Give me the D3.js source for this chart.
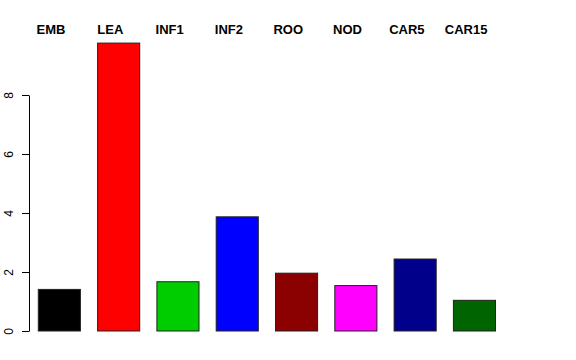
<!DOCTYPE html>
<html>
<head>
<meta charset="utf-8">
<script src="https://cdn.jsdelivr.net/npm/d3@7"></script>
<style>
  body { margin: 0; background: #fff; }
  svg { display: block; font-family: "Liberation Sans", Arial, sans-serif; }
</style>
</head>
<body>
<svg id="chart" width="576" height="360"></svg>
<script>
// tissue categories, values and colours
const categories = ["EMB", "LEA", "INF1", "INF2", "ROO", "NOD", "CAR5", "CAR15"];
const values = [1.41, 9.76, 1.67, 3.87, 1.96, 1.54, 2.44, 1.04];
const colors = ["#000000", "#ff0000", "#00cd00", "#0000ff", "#8b0000", "#ff00ff", "#00008b", "#006400"];
const yTicks = [0, 2, 4, 6, 8];

const svg = d3.select("#chart");

// scales
const x = d3.scaleBand()
    .domain(categories)
    .range([29.7, 504.1])
    .paddingInner(0.29)
    .paddingOuter(0.145);

const y = d3.scaleLinear()
    .domain([0, 8])
    .range([331, 95]);

// bars
svg.append("g")
    .selectAll("rect")
    .data(categories)
    .join("rect")
    .attr("x", d => x(d))
    .attr("y", (d, i) => y(values[i]))
    .attr("width", x.bandwidth())
    .attr("height", (d, i) => y(0) - y(values[i]))
    .attr("fill", (d, i) => colors[i])
    .attr("stroke", "#222")
    .attr("stroke-width", 1);

// labels on top
svg.append("g")
    .selectAll("text")
    .data(categories)
    .join("text")
    .attr("x", d => x(d) + x.bandwidth() / 2 - 8.3)
    .attr("y", 34)
    .attr("text-anchor", "middle")
    .attr("font-size", 13)
    .attr("font-weight", "bold")
    .text(d => d);

// y axis, R style
const yAxis = d3.axisLeft(y)
    .tickValues(yTicks)
    .tickSize(7)
    .tickPadding(4)
    .tickSizeOuter(0);

const gy = svg.append("g")
    .attr("transform", "translate(29,0)")
    .call(yAxis);

gy.select(".domain").attr("stroke", "#000");
gy.selectAll(".tick line").attr("stroke", "#000");
gy.selectAll(".tick text")
    .attr("font-size", 12)
    .attr("fill", "#000")
    .attr("text-anchor", "middle")
    .attr("x", 0)
    .attr("dy", 0)
    .attr("transform", "translate(-16.5,0) rotate(-90)");
</script>
</body>
</html>
